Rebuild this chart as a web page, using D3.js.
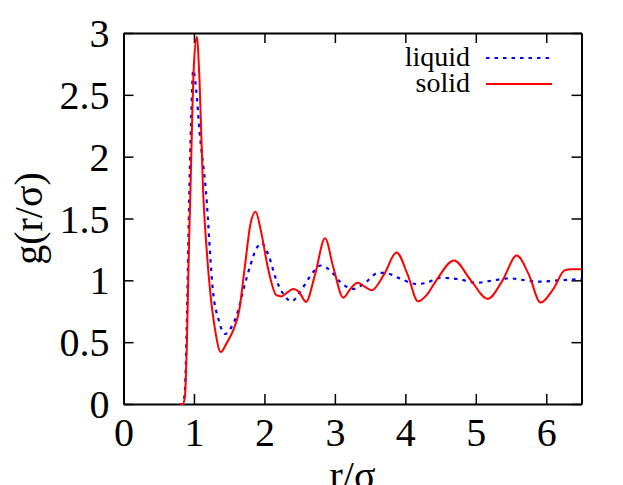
<!DOCTYPE html>
<html>
<head>
<meta charset="utf-8">
<script src="https://cdn.jsdelivr.net/npm/d3@7"></script>
<style>
  body { margin: 0; background: #fff; }
  text { font-family: "Liberation Serif", "Times New Roman", serif; }
</style>
</head>
<body>
<script>
// g(r)
const solidR = [0.80, 0.84, 0.87, 0.90, 0.93, 0.95, 0.97, 1.00, 1.04, 1.08, 1.13, 1.18, 1.23, 1.30, 1.38, 1.47, 1.56, 1.64, 1.72, 1.80, 1.875, 1.95, 2.05, 2.17, 2.24, 2.32, 2.41, 2.50, 2.59, 2.72, 2.86, 2.98, 3.12, 3.22, 3.32, 3.42, 3.52, 3.70, 3.875, 4.03, 4.18, 4.30, 4.44, 4.69, 4.93, 5.17, 5.38, 5.58, 5.75, 5.92, 6.10, 6.26, 6.35, 6.50]
const solidG = [0, 0, 0.05, 0.5, 1.3, 1.72, 2.2, 2.75, 2.97, 2.6, 1.72, 1.25, 0.91, 0.6, 0.42, 0.5, 0.6, 0.75, 1.1, 1.45, 1.555, 1.4, 1.1, 0.88, 0.87, 0.9, 0.93, 0.9, 0.825, 1.05, 1.34, 1.1, 0.86, 0.93, 0.98, 0.95, 0.92, 1.05, 1.226, 1.05, 0.83, 0.88, 1.0, 1.16, 1.0, 0.85, 1.0, 1.2, 1.05, 0.82, 0.93, 1.08, 1.09, 1.09]

const liquidR = [0.80, 0.84, 0.87, 0.90, 0.93, 0.96, 0.99, 1.03, 1.08, 1.17, 1.27, 1.35, 1.44, 1.53, 1.63, 1.70, 1.80, 1.88, 1.96, 2.06, 2.17, 2.28, 2.385, 2.50, 2.645, 2.80, 2.95, 3.07, 3.26, 3.45, 3.61, 3.71, 3.90, 4.16, 4.30, 4.49, 4.75, 5.01, 5.25, 5.48, 5.70, 5.91, 6.20, 6.50]
const liquidG = [0, 0, 0.1, 0.7, 1.6, 2.3, 2.7, 2.55, 2.2, 1.72, 0.91, 0.68, 0.566, 0.62, 0.76, 0.92, 1.12, 1.25, 1.30, 1.2, 1.0, 0.88, 0.83, 0.9, 1.03, 1.12, 1.07, 0.99, 0.93, 0.99, 1.06, 1.06, 1.02, 0.97, 0.98, 1.02, 1.01, 0.98, 1.0, 1.016, 1.0, 0.99, 1.0, 1.01]

const xTicks = [0, 1, 2, 3, 4, 5, 6]
const yTicks = [0, 0.5, 1, 1.5, 2, 2.5, 3]
const seriesNames = ['liquid', 'solid']

const W = 623, H = 485
const m = {left: 123.5, right: 41.5, top: 33, bottom: 81}

const svg = d3.select('body').append('svg')
    .attr('width', W)
    .attr('height', H)

const x = d3.scaleLinear().domain([0, 6.5]).range([m.left, W - m.right])
const y = d3.scaleLinear().domain([0, 3]).range([H - m.bottom, m.top])

const line = d3.line()
    .x(d => x(d[0]))
    .y(d => y(d[1]))
    .curve(d3.curveMonotoneX)

const solid = d3.zip(solidR, solidG)
const liquid = d3.zip(liquidR, liquidG)

// axes, ticks inside, mirrored on top and right
const tick = 10
const axB = svg.append('g').attr('transform', `translate(0,${y(0)})`)
    .call(d3.axisBottom(x).tickValues(xTicks).tickSizeInner(-tick).tickSizeOuter(0).tickPadding(14).tickFormat(d3.format('d')))
const axT = svg.append('g').attr('transform', `translate(0,${y(3)})`)
    .call(d3.axisTop(x).tickValues(xTicks).tickSizeInner(-tick).tickSizeOuter(0).tickFormat(''))
const axL = svg.append('g').attr('transform', `translate(${x(0)},0)`)
    .call(d3.axisLeft(y).tickValues(yTicks).tickSizeInner(-tick).tickSizeOuter(0).tickPadding(14).tickFormat(d => d))
const axR = svg.append('g').attr('transform', `translate(${x(6.5)},0)`)
    .call(d3.axisRight(y).tickValues(yTicks).tickSizeInner(-tick).tickSizeOuter(0).tickFormat(''))

;[axB, axT, axL, axR].forEach(a => {
    a.select('.domain').attr('stroke', '#000').attr('stroke-width', 2)
    a.selectAll('.tick line').attr('stroke', '#000').attr('stroke-width', 1.5)
    a.selectAll('.tick text').attr('fill', '#000').style('font-size', '40px')
        .style('font-family', '"Liberation Serif", serif')
})
axB.selectAll('.tick text').attr('dy', '0.7em')
axL.selectAll('.tick text').attr('dy', '0.34em')

// curves
svg.append('path')
    .datum(liquid)
    .attr('fill', 'none')
    .attr('stroke', '#0000ff')
    .attr('stroke-width', 2.2)
    .attr('stroke-dasharray', '3.5,5')
    .attr('d', line)

svg.append('path')
    .datum(solid)
    .attr('fill', 'none')
    .attr('stroke', '#ff0000')
    .attr('stroke-width', 2)
    .attr('d', line)

// legend
const leg = svg.append('g')
const legY = [58, 84]
leg.selectAll('text')
    .data(seriesNames)
    .enter()
    .append('text')
        .attr('x', 470)
        .attr('y', (d, i) => legY[i])
        .attr('dy', '0.3em')
        .attr('text-anchor', 'end')
        .style('font-size', '28px')
        .text(d => d)
leg.append('line')
    .attr('x1', 486).attr('x2', 552).attr('y1', legY[0]).attr('y2', legY[0])
    .attr('stroke', '#0000ff').attr('stroke-width', 2.2).attr('stroke-dasharray', '3.5,5')
leg.append('line')
    .attr('x1', 486).attr('x2', 552).attr('y1', legY[1]).attr('y2', legY[1])
    .attr('stroke', '#ff0000').attr('stroke-width', 2)

// axis titles
svg.append('text')
    .attr('x', (x(0) + x(6.5)) / 2)
    .attr('y', 485)
    .attr('dy', '0.1em')
    .attr('text-anchor', 'middle')
    .style('font-size', '40px')
    .text('r/σ')

svg.append('text')
    .attr('transform', `translate(42,${(y(0) + y(3)) / 2}) rotate(-90)`)
    .attr('text-anchor', 'middle')
    .style('font-size', '40px')
    .text('g(r/σ)')
</script>
</body>
</html>
